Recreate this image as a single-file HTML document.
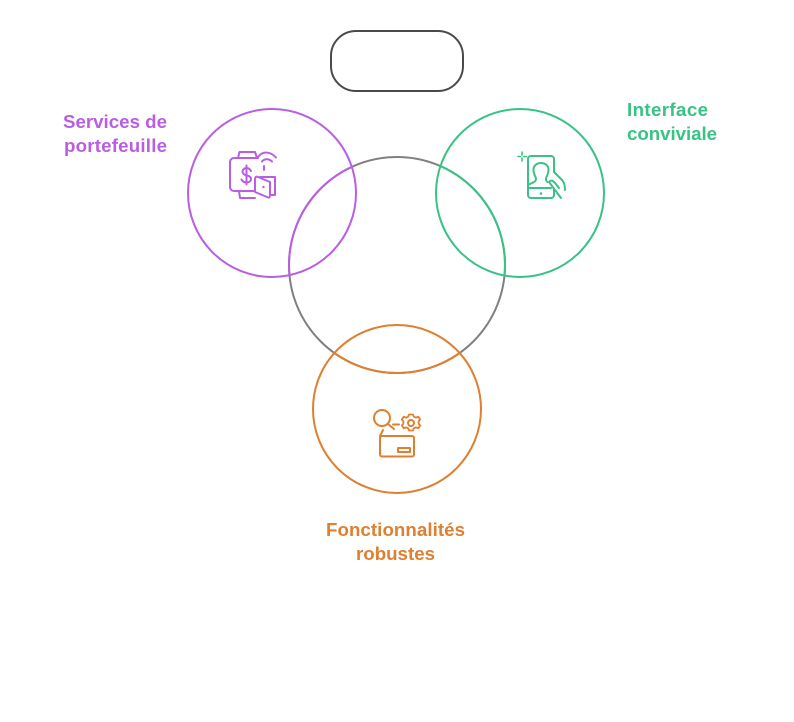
<!DOCTYPE html>
<html>
<head>
<meta charset="utf-8">
<style>
html,body{margin:0;padding:0;background:#fff;}
body{width:794px;height:722px;overflow:hidden;position:relative;}
svg{position:absolute;left:0;top:0;}
text{font-family:"Liberation Sans",sans-serif;font-weight:700;font-size:18.7px;}
</style>
</head>
<body>
<svg width="794" height="722" viewBox="0 0 794 722" fill="none">
<defs>
<clipPath id="cp"><circle cx="272" cy="193" r="84"/></clipPath>
<clipPath id="cg"><circle cx="520" cy="193" r="84"/></clipPath>
<clipPath id="co"><circle cx="397" cy="409" r="84"/></clipPath>
</defs>
<rect width="794" height="722" fill="#fff"/>
<rect x="331" y="31" width="132" height="60" rx="25" stroke="#4a4a4a" stroke-width="2"/>
<circle cx="397" cy="265" r="108" stroke="#808080" stroke-width="2"/>
<circle cx="397" cy="265" r="108" stroke="#b95ee4" stroke-width="2" clip-path="url(#cp)"/>
<circle cx="397" cy="265" r="108" stroke="#39c285" stroke-width="2" clip-path="url(#cg)"/>
<circle cx="397" cy="265" r="108" stroke="#df7f2f" stroke-width="2" clip-path="url(#co)"/>
<circle cx="272" cy="193" r="84" stroke="#b95ee4" stroke-width="2"/>
<circle cx="520" cy="193" r="84" stroke="#39c285" stroke-width="2"/>
<circle cx="397" cy="409" r="84" stroke="#df7f2f" stroke-width="2"/>

<!-- purple icon -->
<g stroke="#b95ee4" stroke-width="2" stroke-linecap="round" stroke-linejoin="round">
<path d="M255 191H234a4 4 0 0 1-4-4V162a4 4 0 0 1 4-4H258"/>
<path d="M238 158l1.500-6H255l2 6"/>
<path d="M239 191l1 7H255"/>
<path d="M251 171c-1-2-2.500-3-4.500-3s-4 1.500-4 3.500 2 3.500 4.500 4 4 1.500 4 3.500-2 3.500-4.500 3.500-4-1-5-3M246.500 165.500v19"/>
<path d="M258 157c4.500-6 12-6 18 0.500M262 161.500c2.500-3 7-3 10 0M264 166v4"/>
<path d="M255 180c0-3 1-4 3-3l12 5v13c0 3-1 3-3 2l-12-5z"/>
<path d="M260 177h15v18h-5"/>
</g>
<circle cx="263.500" cy="187" r="1.200" fill="#b95ee4"/>

<!-- green icon -->
<g stroke="#39c285" stroke-width="2" stroke-linecap="round" stroke-linejoin="round">
<path d="M554 172V159a3 3 0 0 0-3-3H531a3 3 0 0 0-3 3V195a3 3 0 0 0 3 3H551a3 3 0 0 0 3-3V189"/>
<path d="M528 188H551"/>
<path d="M528 185l6-3c2-1 2.500-3 1.500-5-1.500-3-2-4.500-2-7.500 0-4 3.500-6.500 7.500-6.500s7.500 2.500 7.500 6.500c0 3-.5 4.500-2 7.500-1 2-.5 4 1 5"/>
<path d="M549 182l12 16M554 172l8 8c2 2 3 5 3 10M550 181c2-1 3 0 5 2l4 5"/>
<path d="M522 152v3M522 158v3M518 156.500h2.500M523.500 156.500h3" stroke-width="1.600"/>
</g>
<circle cx="541" cy="193.500" r="1.300" fill="#39c285"/>

<!-- orange icon -->
<g stroke="#df7f2f" stroke-width="2" stroke-linecap="round" stroke-linejoin="round">
<circle cx="382" cy="418" r="8"/>
<path d="M388 424l6 5M393 424.500h6"/>
<path d="M383 430l-3 6"/>
<rect x="380" y="436" width="34" height="20.500" rx="2"/>
<rect x="398" y="448" width="12" height="4"/>
<path d="M409 414.500h4l.8 2.200 2.200 1 2.200-1 2 2.800-1.600 1.800v2.400l1.600 1.800-2 2.800-2.200-1-2.200 1-.8 2.200h-4l-.8-2.200-2.200-1-2.200 1-2-2.800 1.600-1.800v-2.400l-1.600-1.800 2-2.800 2.200 1 2.200-1z" stroke-width="1.800"/>
<circle cx="411" cy="423" r="3"/>
</g>

<text x="63" y="128" textLength="104" fill="#b95ee4">Services de</text>
<text x="64" y="152" textLength="103" fill="#b95ee4">portefeuille</text>
<text x="627" y="116" textLength="81" fill="#39c285">Interface</text>
<text x="627" y="140" textLength="90" fill="#39c285">conviviale</text>
<text x="326" y="536" textLength="139" fill="#df7f2f">Fonctionnalités</text>
<text x="356" y="560" textLength="79" fill="#df7f2f">robustes</text>
</svg>
</body>
</html>
